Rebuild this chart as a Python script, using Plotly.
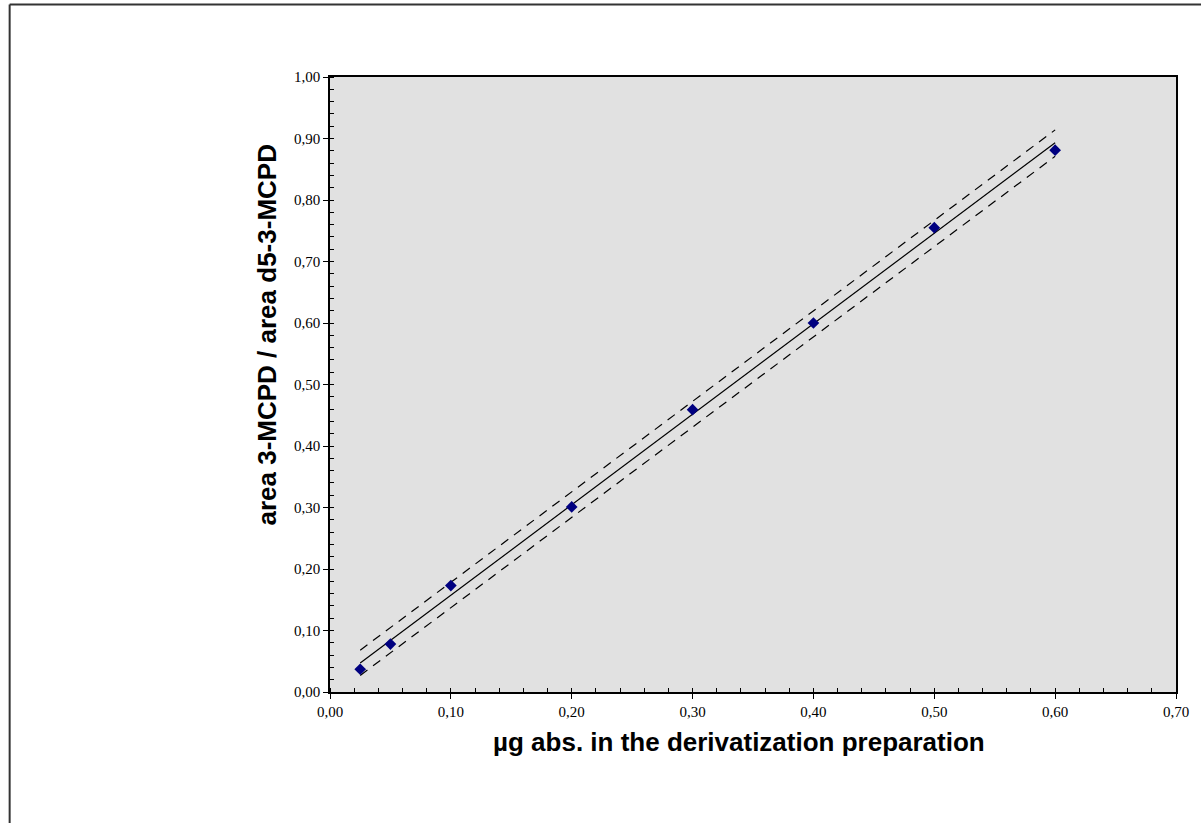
import plotly.graph_objects as go

# data
x_points = [0.025, 0.05, 0.10, 0.20, 0.30, 0.40, 0.50, 0.60]
y_points = [0.037, 0.078, 0.173, 0.301, 0.459, 0.600, 0.755, 0.881]

fit_x = [0.025, 0.60]
fit_y = [0.047, 0.893]
upper_y = [0.068, 0.914]
lower_y = [0.027, 0.871]

x_ticks = [0.0, 0.1, 0.2, 0.3, 0.4, 0.5, 0.6, 0.7]
y_ticks = [0.0, 0.1, 0.2, 0.3, 0.4, 0.5, 0.6, 0.7, 0.8, 0.9, 1.0]

W, H = 1201, 823
L, R, T, B = 330, 18, 77, 131
pw, ph = W - L - R, H - T - B


def px(v):
    return (v - L) / pw


def py(v):
    return (H - B - v) / ph


fig = go.Figure()
fig.add_trace(go.Scatter(x=fit_x, y=upper_y, mode="lines",
                         line=dict(color="black", width=1.2, dash="9px,7px"),
                         hoverinfo="skip", showlegend=False))
fig.add_trace(go.Scatter(x=fit_x, y=lower_y, mode="lines",
                         line=dict(color="black", width=1.2, dash="9px,7px"),
                         hoverinfo="skip", showlegend=False))
fig.add_trace(go.Scatter(x=fit_x, y=fit_y, mode="lines",
                         line=dict(color="black", width=1.2),
                         hoverinfo="skip", showlegend=False))
fig.add_trace(go.Scatter(x=x_points, y=y_points, mode="markers",
                         marker=dict(symbol="diamond", color="#000080", size=9),
                         showlegend=False))

tickfont = dict(family="Liberation Serif, Times New Roman, serif", size=15, color="black")

fig.update_layout(
    width=W, height=H,
    margin=dict(l=L, r=R, t=T, b=B),
    paper_bgcolor="white",
    plot_bgcolor="#e1e1e1",
    separators=", ",
    showlegend=False,
    xaxis=dict(range=[0, 0.7], tickvals=x_ticks, tickformat=".2f",
               showgrid=False, zeroline=False,
               showline=True, linecolor="black", linewidth=1.5, mirror=True,
               ticks="outside", ticklen=5, tickwidth=1.2, tickcolor="black",
               minor=dict(dtick=0.02, ticks="inside", ticklen=4, tickwidth=1, tickcolor="black"),
               tickfont=tickfont),
    yaxis=dict(range=[0, 1.0], tickvals=y_ticks, tickformat=".2f",
               showgrid=False, zeroline=False,
               showline=True, linecolor="black", linewidth=1.5, mirror=True,
               ticks="outside", ticklen=5, tickwidth=1.2, tickcolor="black",
               minor=dict(dtick=0.02, ticks="inside", ticklen=4, tickwidth=1, tickcolor="black"),
               tickfont=tickfont),
    xaxis2=dict(range=[0, 0.7], tickvals=x_ticks, overlaying="x", anchor="y",
                showticklabels=False, showgrid=False, zeroline=False, showline=False,
                ticks="inside", ticklen=5, tickwidth=1.2, tickcolor="black"),
    yaxis2=dict(range=[0, 1.0], tickvals=y_ticks, overlaying="y", anchor="x",
                showticklabels=False, showgrid=False, zeroline=False, showline=False,
                ticks="inside", ticklen=5, tickwidth=1.2, tickcolor="black"),
)

titlefont = dict(family="Liberation Sans, Arial, sans-serif", size=26, color="black")
fig.add_annotation(text="<b>area 3-MCPD / area d5-3-MCPD</b>", textangle=-90,
                   xref="paper", yref="paper", x=px(266), y=py(335),
                   showarrow=False, font=titlefont, xanchor="center", yanchor="middle")
fig.add_annotation(text="<b>µg abs. in the derivatization preparation</b>",
                   xref="paper", yref="paper", x=px(742), y=py(742),
                   showarrow=False, font=titlefont, xanchor="center", yanchor="middle")

# outer frame (top and left edges visible)
fig.add_shape(type="line", xref="paper", yref="paper",
              x0=px(7), y0=py(4.5), x1=px(1210), y1=py(4.5),
              line=dict(color="#333333", width=2))
fig.add_shape(type="line", xref="paper", yref="paper",
              x0=px(7), y0=py(4.5), x1=px(7), y1=py(830),
              line=dict(color="#333333", width=2))

fig.write_html("out.html", config={"displayModeBar": False},
               post_script="document.body.style.margin='0';document.body.style.overflow='hidden';")
